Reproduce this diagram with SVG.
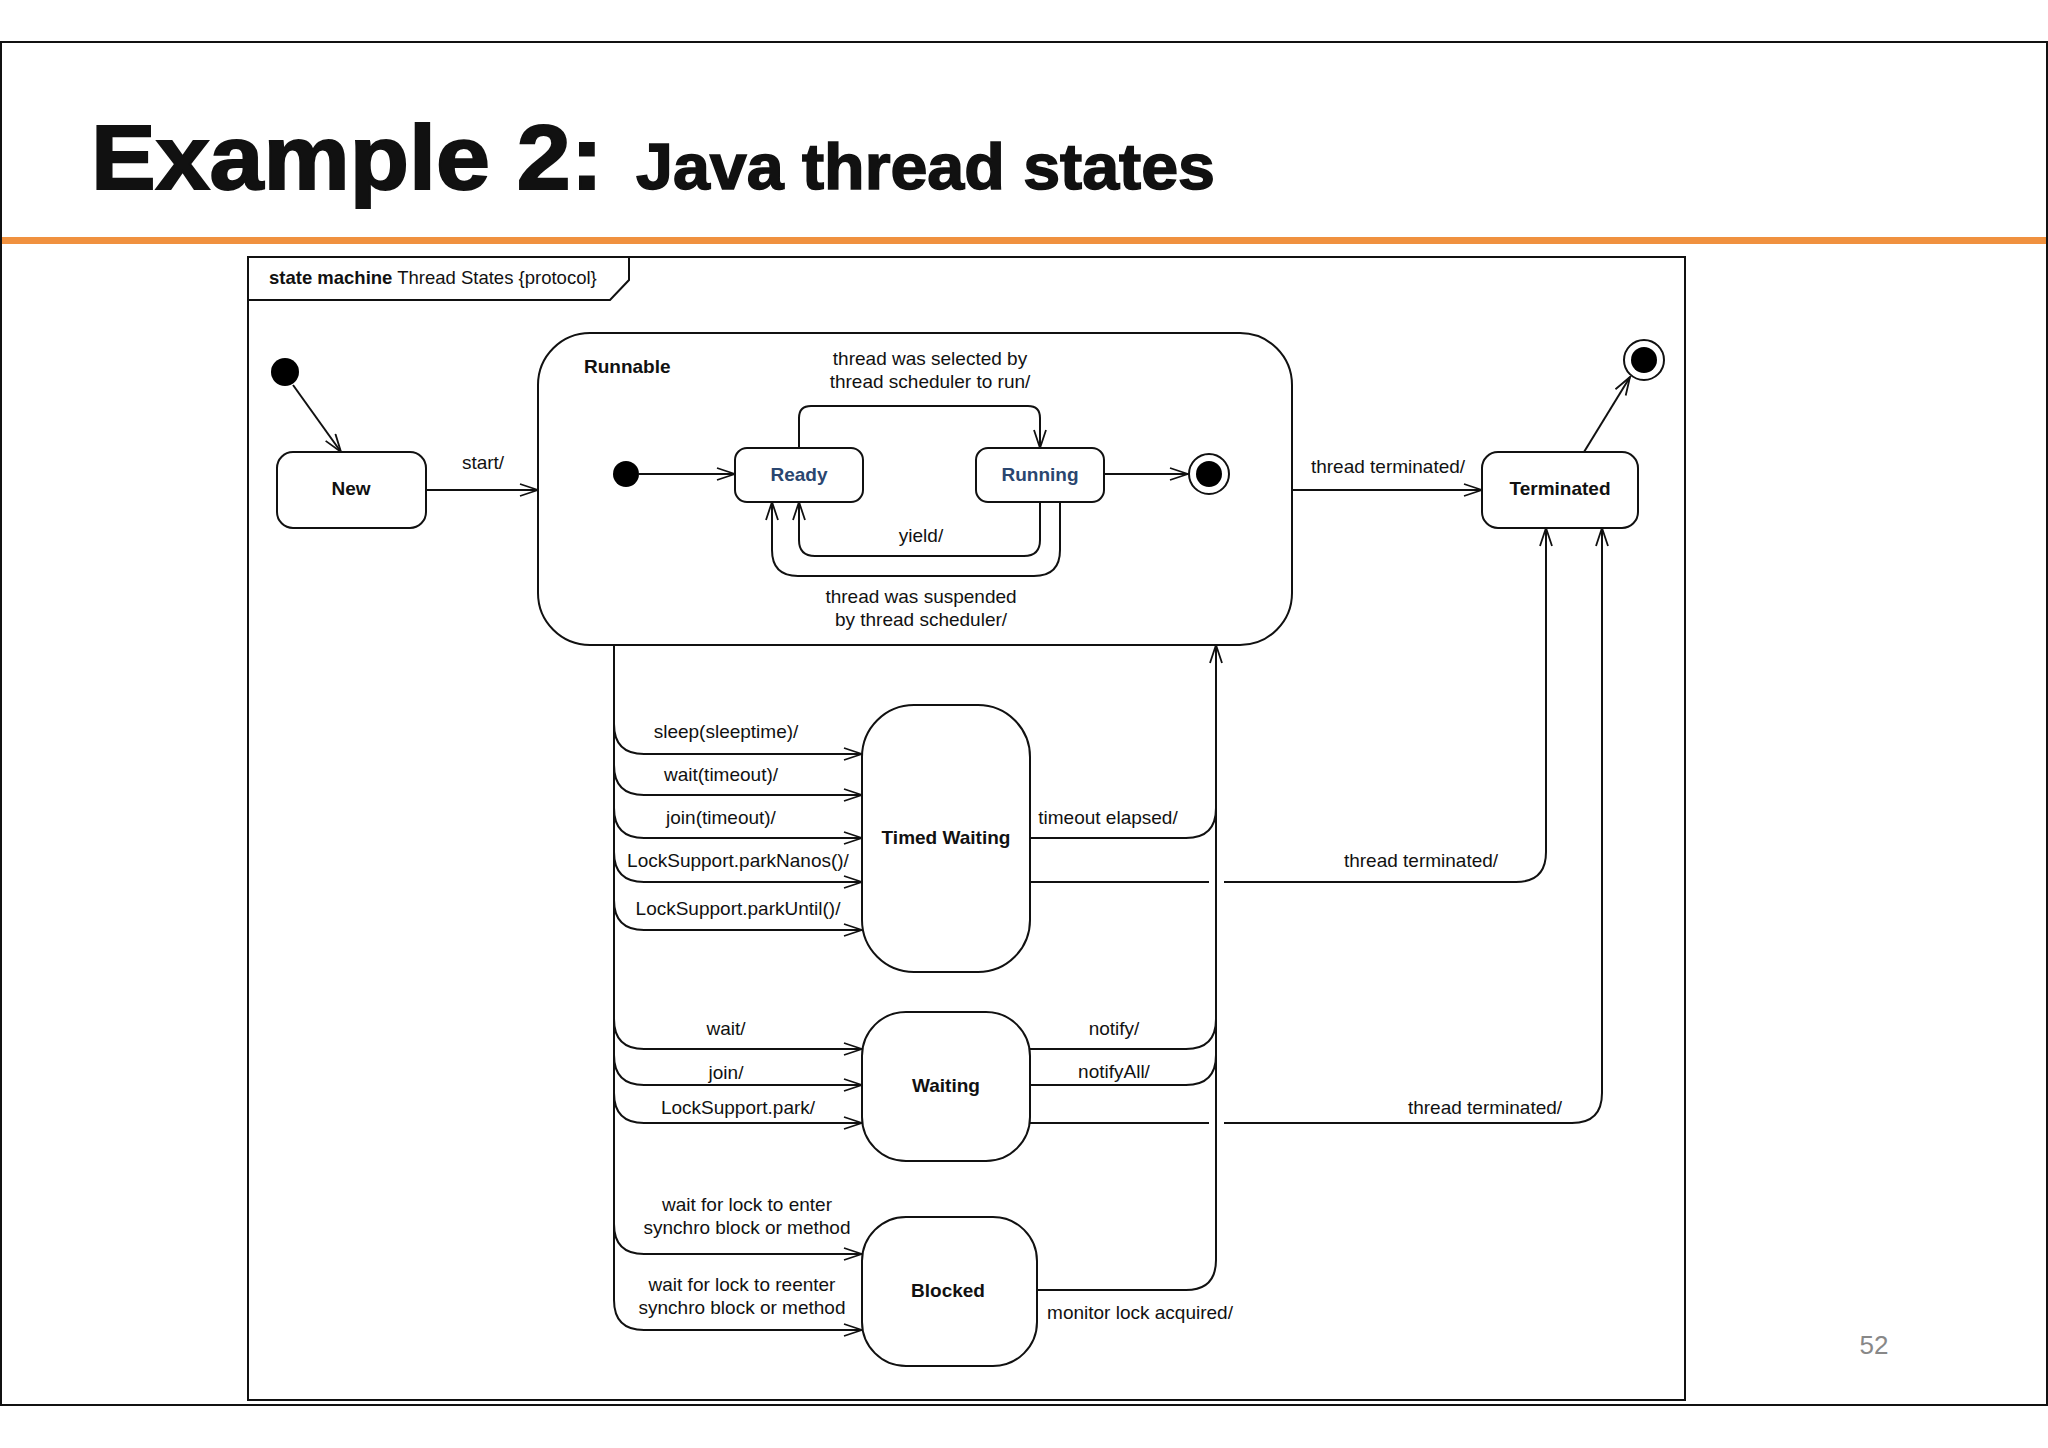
<svg xmlns="http://www.w3.org/2000/svg" width="2048" height="1448" viewBox="0 0 2048 1448">
<defs>
<marker id="a" viewBox="0 0 20 14" refX="19" refY="7" markerWidth="20" markerHeight="14" markerUnits="userSpaceOnUse" orient="auto">
<path d="M1,1 L19,7 L1,13" fill="none" stroke="#111" stroke-width="1.8"/>
</marker>
</defs>
<style>
text{font-family:"Liberation Sans",Arial,sans-serif;fill:#111}
.l{font-size:19px;text-anchor:middle}
.b{font-size:19px;font-weight:bold;text-anchor:middle}
.s{fill:#fff;stroke:#111;stroke-width:2}
.c path,.c line{fill:none;stroke:#111;stroke-width:2}
.m{marker-end:url(#a)}
.blue{fill:#2a4670}
</style>
<rect width="2048" height="1448" fill="#fff"/>
<rect x="1" y="42" width="2046" height="1363" fill="#fff" stroke="#111" stroke-width="2"/>
<text x="91" y="189" font-size="91" font-weight="900" stroke="#111" stroke-width="2" textLength="512" lengthAdjust="spacingAndGlyphs">Example 2:</text>
<text x="636" y="189" font-size="64" font-weight="900" stroke="#111" stroke-width="1.5" textLength="579" lengthAdjust="spacingAndGlyphs">Java thread states</text>
<rect x="2" y="237" width="2044" height="7" fill="#f0913f"/>
<rect x="248" y="257" width="1437" height="1143" fill="none" stroke="#111" stroke-width="2"/>
<path d="M248,300 L610,300 L629,280 L629,257" fill="none" stroke="#111" stroke-width="2"/>
<text x="269" y="284" font-size="18.5"><tspan font-weight="bold">state machine</tspan> Thread States {protocol}</text>

<g id="init"><circle cx="285" cy="372" r="14" fill="#000"/></g>
<g id="new"><rect class="s" x="277" y="452" width="149" height="76" rx="16"/><text class="b" x="351" y="495">New</text></g>
<g id="runnable"><rect class="s" x="538" y="333" width="754" height="312" rx="52"/><text x="584" y="373" font-size="19" font-weight="bold">Runnable</text></g>
<g id="inner-init"><circle cx="626" cy="474" r="13" fill="#000"/></g>
<g id="ready"><rect class="s" x="735" y="448" width="128" height="54" rx="12"/><text class="b blue" x="799" y="481">Ready</text></g>
<g id="running"><rect class="s" x="976" y="448" width="128" height="54" rx="12"/><text class="b blue" x="1040" y="481">Running</text></g>
<g id="inner-final"><circle cx="1209" cy="474" r="20" fill="#fff" stroke="#111" stroke-width="2"/><circle cx="1209" cy="474" r="13" fill="#000"/></g>
<g id="terminated"><rect class="s" x="1482" y="452" width="156" height="76" rx="16"/><text class="b" x="1560" y="495">Terminated</text></g>
<g id="final"><circle cx="1644" cy="360" r="20" fill="#fff" stroke="#111" stroke-width="2"/><circle cx="1644" cy="360" r="13" fill="#000"/></g>
<g id="timed"><rect class="s" x="862" y="705" width="168" height="267" rx="52"/><text class="b" x="946" y="844">Timed Waiting</text></g>
<g id="waiting"><rect class="s" x="862" y="1012" width="168" height="149" rx="44"/><text class="b" x="946" y="1092">Waiting</text></g>
<g id="blocked"><rect class="s" x="862" y="1217" width="175" height="149" rx="44"/><text class="b" x="948" y="1297">Blocked</text></g>

<g id="connectors" class="c">
<path class="m" d="M293,385 L341,452"/>
<path class="m" d="M426,490 L538,490"/>
<path class="m" d="M639,474 L735,474"/>
<path class="m" d="M1104,474 L1188,474"/>
<path class="m" d="M799,448 L799,418 Q799,406 811,406 L1028,406 Q1040,406 1040,418 L1040,448"/>
<path class="m" d="M1040,502 L1040,540 Q1040,556 1024,556 L815,556 Q799,556 799,540 L799,502"/>
<path class="m" d="M1060,502 L1060,550 Q1060,576 1034,576 L798,576 Q772,576 772,550 L772,502"/>
<path class="m" d="M1292,490 L1482,490"/>
<path class="m" d="M1584,452 L1630,377"/>
<line x1="614" y1="645" x2="614" y2="1300"/>
<path class="m" d="M614,724 Q614,754 644,754 L862,754"/>
<path class="m" d="M614,765 Q614,795 644,795 L862,795"/>
<path class="m" d="M614,808 Q614,838 644,838 L862,838"/>
<path class="m" d="M614,852 Q614,882 644,882 L862,882"/>
<path class="m" d="M614,900 Q614,930 644,930 L862,930"/>
<path class="m" d="M614,1019 Q614,1049 644,1049 L862,1049"/>
<path class="m" d="M614,1055 Q614,1085 644,1085 L862,1085"/>
<path class="m" d="M614,1093 Q614,1123 644,1123 L862,1123"/>
<path class="m" d="M614,1224 Q614,1254 644,1254 L862,1254"/>
<path class="m" d="M614,1300 Q614,1330 644,1330 L862,1330"/>
<path class="m" d="M1216,1260 L1216,645"/>
<path d="M1030,838 L1186,838 Q1216,838 1216,808"/>
<path d="M1030,1049 L1186,1049 Q1216,1049 1216,1019"/>
<path d="M1030,1085 L1186,1085 Q1216,1085 1216,1055"/>
<path d="M1037,1290 L1186,1290 Q1216,1290 1216,1260"/>
<path d="M1030,882 L1209,882"/>
<path class="m" d="M1224,882 L1516,882 Q1546,882 1546,852 L1546,528"/>
<path d="M1030,1123 L1209,1123"/>
<path class="m" d="M1224,1123 L1572,1123 Q1602,1123 1602,1093 L1602,528"/>
</g>

<g id="labels">
<text class="l" x="483" y="469">start/</text>
<text class="l" x="930" y="365">thread was selected by</text>
<text class="l" x="930" y="388">thread scheduler to run/</text>
<text class="l" x="921" y="542">yield/</text>
<text class="l" x="921" y="603">thread was suspended</text>
<text class="l" x="921" y="626">by thread scheduler/</text>
<text class="l" x="1388" y="473">thread terminated/</text>
<text class="l" x="726" y="738">sleep(sleeptime)/</text>
<text class="l" x="721" y="781">wait(timeout)/</text>
<text class="l" x="721" y="824">join(timeout)/</text>
<text class="l" x="738" y="867">LockSupport.parkNanos()/</text>
<text class="l" x="738" y="915">LockSupport.parkUntil()/</text>
<text class="l" x="1108" y="824">timeout elapsed/</text>
<text class="l" x="1421" y="867">thread terminated/</text>
<text class="l" x="726" y="1035">wait/</text>
<text class="l" x="726" y="1079">join/</text>
<text class="l" x="738" y="1114">LockSupport.park/</text>
<text class="l" x="1114" y="1035">notify/</text>
<text class="l" x="1114" y="1078">notifyAll/</text>
<text class="l" x="1485" y="1114">thread terminated/</text>
<text class="l" x="747" y="1211">wait for lock to enter</text>
<text class="l" x="747" y="1234">synchro block or method</text>
<text class="l" x="742" y="1291">wait for lock to reenter</text>
<text class="l" x="742" y="1314">synchro block or method</text>
<text class="l" x="1140" y="1319">monitor lock acquired/</text>
</g>
<text x="1874" y="1354" font-size="26" text-anchor="middle" style="fill:#888">52</text>
</svg>
